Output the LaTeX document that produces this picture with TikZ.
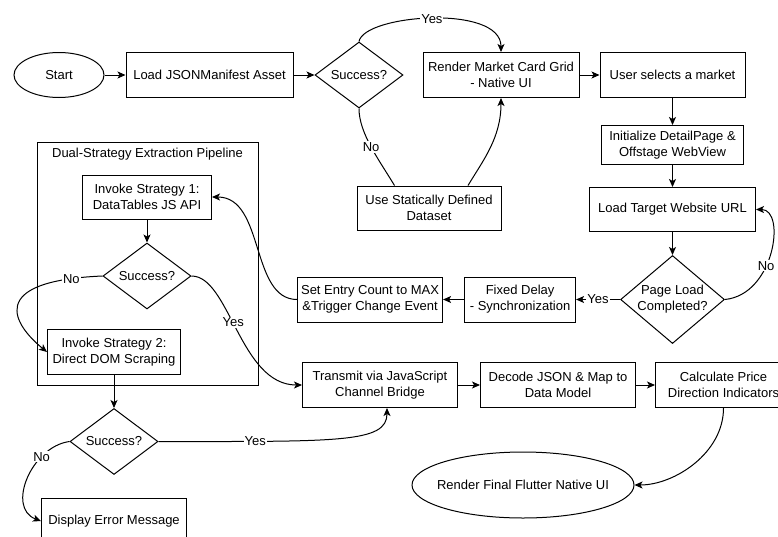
\documentclass[tikz,border=0pt]{standalone}
\usepackage{fontspec}
\setmainfont{Liberation Sans}
\usepackage{tikz}
\usetikzlibrary{positioning, arrows.meta, shapes.geometric}

\begin{document}
\begin{tikzpicture}[x=1pt, y=-1pt, line width=1pt,
    every node/.style={font=\fontsize{13}{16}\selectfont},
    box/.style={draw, rectangle, align=center, inner sep=2pt, minimum height=45pt},
    choice/.style={draw, diamond, align=center, inner sep=0pt, aspect=1.33, minimum width=88pt, minimum height=66pt},
    lbl/.style={fill=white, inner sep=1pt},
    >={Stealth[length=8pt, width=7pt, inset=2pt]}]
    \useasboundingbox (0,0) rectangle (778,536);
    \node [draw, ellipse, minimum width=90pt, minimum height=45pt] (start) at (59,75) {Start};
    \node [box, minimum width=167pt, right=21pt of start] (load) {Load JSONManifest Asset};
    \node [choice, right=21pt of load] (ok1) {Success?};
    \node [box, minimum width=156pt] (grid) at (501,75) {Render Market Card Grid\\- Native UI};
    \node [box, minimum width=145pt, right=20pt of grid] (select) {User selects a market};
    \node [box, minimum width=142pt, minimum height=39pt, below=27pt of select] (init) {Initialize DetailPage \&\\Offstage WebView};
    \node [box, minimum width=166pt, minimum height=44pt, below=22pt of init] (url) {Load Target Website URL};
    \node [choice, aspect=1.2, minimum width=100pt, minimum height=88pt, below=23pt of url] (loaded) {Page Load\\Completed?};
    \node [box, minimum width=111pt, left=44pt of loaded] (delay) {Fixed Delay\\- Synchronization};
    \node [box, minimum width=145pt, left=21pt of delay] (entry) {Set Entry Count to MAX\\\&Trigger Change Event};
    \node [box, minimum width=144pt, minimum height=44pt] (static) at (429,208) {Use Statically Defined\\Dataset};

    \node [draw, minimum width=221pt, minimum height=243pt] (pipe) at (147.5,263.5) {};
    \node [below=3pt of pipe.north] (pipename) {Dual-Strategy Extraction Pipeline};
    \node [box, minimum width=129pt, minimum height=44pt] (s1) at (147,197) {Invoke Strategy 1:\\DataTables JS API};
    \node [choice, below=23pt of s1] (ok2) {Success?};
    \node [box, minimum width=133pt] (s2) at (114,352) {Invoke Strategy 2:\\Direct DOM Scraping};
    \node [choice, below=33pt of s2] (ok3) {Success?};
    \node [box, minimum width=145pt, below=23pt of ok3] (fail) {Display Error Message};

    \node [box, minimum width=155pt] (bridge) at (380,385) {Transmit via JavaScript\\Channel Bridge};
    \node [box, minimum width=155pt, right=22pt of bridge] (decode) {Decode JSON \& Map to\\Data Model};
    \node [box, minimum width=136pt, right=19pt of decode] (trend) {Calculate Price\\Direction Indicators};
    \node [draw, ellipse, minimum width=222pt, minimum height=66pt, inner xsep=-8pt] (final) at (523,485) {Render Final Flutter Native UI};

    \draw [->] (start) -- (load);
    \draw [->] (load) -- (ok1);
    \draw [->] (ok1.north) .. controls +(5,-27) and +(0,-48) .. node [lbl] {Yes} (grid.north);
    \draw (ok1.south) .. controls +(0,25) and +(-15,-25) .. node [lbl] {No} ([xshift=38pt]static.north west);
    \draw [->] ([xshift=39pt]static.north) .. controls +(15,-25) and +(0,40) .. (grid.south);
    \draw [->] (grid) -- (select);
    \draw [->] (select) -- (init);
    \draw [->] (init) -- (url);
    \draw [->] (url) -- (loaded);
    \draw [->] (loaded.east) .. controls +(50,-5) and +(30,0) .. node [lbl, pos=0.4] {No} (url.east);
    \draw [->] (loaded) -- node [lbl] {Yes} (delay);
    \draw [->] (delay) -- (entry);
    \draw [->] (entry.west) .. controls +(-47,0) and +(53,0) .. (s1.east);
    \draw [->] (s1) -- (ok2);
    \draw [->] (ok2.west) .. controls +(-118,5) and +(-33,-27) .. node [lbl, pos=0.1] {No} (s2.west);
    \draw [->] (ok2.east) .. controls +(38,0) and +(-62,0) .. node [lbl, pos=0.45] {Yes} (bridge.west);
    \draw [->] (s2) -- (ok3);
    \draw [->] (ok3.east) .. controls +(180,0) and +(0,35) .. node [lbl, pos=0.21] {Yes} ([xshift=7pt]bridge.south);
    \draw [->] (ok3.west) .. controls +(-38,5) and +(-35,-13) .. node [lbl, pos=0.28] {No} (fail.west);
    \draw [->] (bridge) -- (decode);
    \draw [->] (decode) -- (trend);
    \draw [->] (trend.south) .. controls +(0,45) and +(40,0) .. (final.east);
\end{tikzpicture}
\end{document}
